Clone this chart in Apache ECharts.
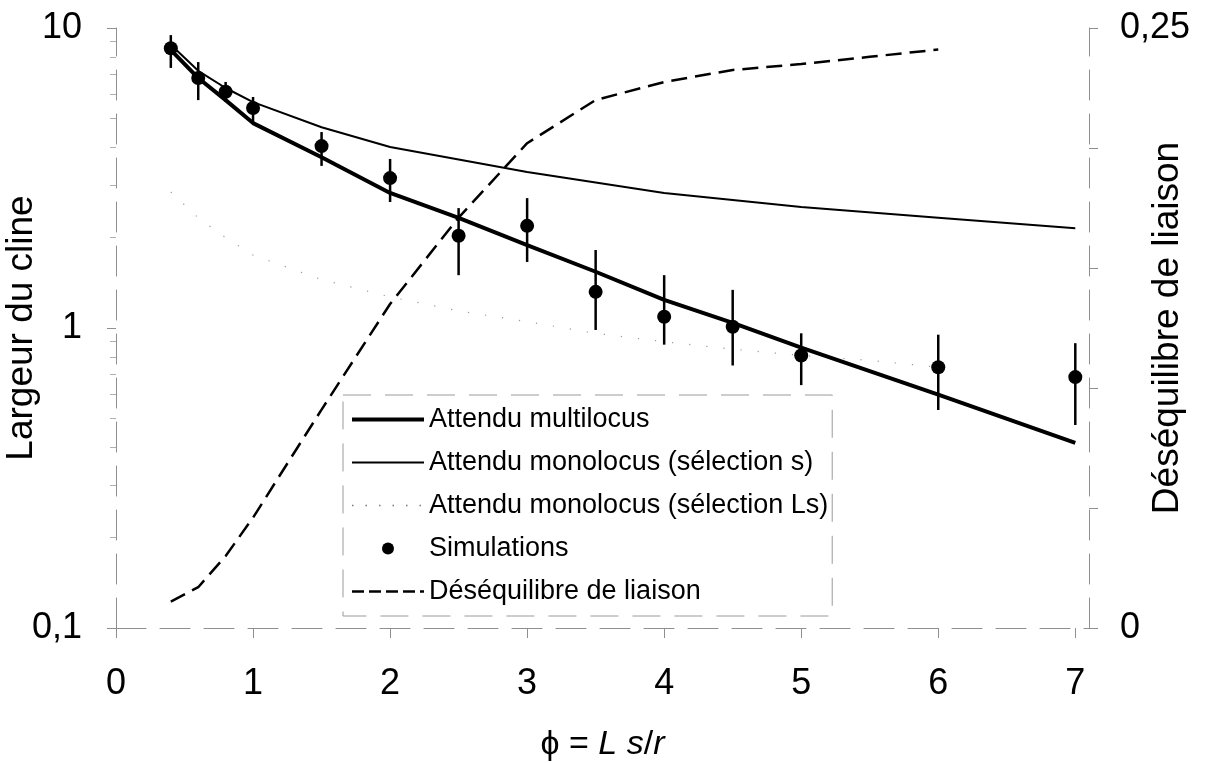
<!DOCTYPE html>
<html>
<head>
<meta charset="utf-8">
<script src="https://cdn.jsdelivr.net/npm/echarts@6/dist/echarts.min.js"></script>
<style>html,body{margin:0;padding:0;background:#fff}#c{width:1209px;height:763px}</style>
</head>
<body>
<div id="c"></div>
<script>
// ---- data ----
const multiX = [0.4, 0.6, 0.8, 1, 1.5, 2, 2.5, 3, 3.5, 4, 4.5, 5, 6, 7];
const multiY = [8.45, 6.81, 5.75, 4.82, 3.71, 2.82, 2.33, 1.89, 1.54, 1.24, 1.04, 0.86, 0.60, 0.414];
const monoSX = [0.4, 0.6, 0.8, 1, 1.5, 2, 3, 4, 5, 6, 7];
const monoSY = [8.8, 7.2, 6.31, 5.66, 4.67, 4.01, 3.31, 2.82, 2.53, 2.33, 2.15];
const monoLsX = [0.4, 0.6, 0.8, 1, 1.5, 2, 2.5, 3, 3.5, 4, 4.5, 5, 5.5, 6];
const monoLsY = [2.84, 2.33, 2.0, 1.75, 1.45, 1.27, 1.14, 1.05, 0.96, 0.90, 0.85, 0.81, 0.78, 0.74];
const simX = [0.4, 0.6, 0.8, 1, 1.5, 2, 2.5, 3, 3.5, 4, 4.5, 5, 6, 7];
const simY = [8.56, 6.81, 6.13, 5.41, 4.04, 3.16, 2.03, 2.19, 1.32, 1.09, 1.01, 0.81, 0.74, 0.686];
const simLow = [7.36, 5.75, 5.67, 4.86, 3.47, 2.63, 1.50, 1.66, 0.985, 0.88, 0.75, 0.645, 0.533, 0.475];
const simHigh = [9.47, 7.70, 6.61, 5.89, 4.50, 3.66, 2.51, 2.71, 1.82, 1.50, 1.34, 0.96, 0.95, 0.89];
const ldX = [0.4, 0.6, 0.8, 1, 1.5, 2, 2.5, 3, 3.5, 4, 4.5, 5, 5.5, 6];
const ldY = [0.011, 0.017, 0.030, 0.046, 0.091, 0.135, 0.171, 0.202, 0.220, 0.2275, 0.2325, 0.235, 0.238, 0.241];
const xTicks = [0, 1, 2, 3, 4, 5, 6, 7];
const rightLabels = [0, 0.25];
const names = ['Attendu multilocus', 'Attendu monolocus (sélection s)', 'Attendu monolocus (sélection Ls)', 'Simulations', 'Déséquilibre de liaison'];

const pairs = (xs, ys) => xs.map((x, i) => [x, ys[i]]);
const comma = v => String(v).replace('.', ',');
const FONT = 'Liberation Sans';
const axisGrey = '#8f8f8f';
const axisDash = [30, 14];
const noSym = { opacity: 0 };

const chart = echarts.init(document.getElementById('c'));
chart.setOption({
  animation: false,
  backgroundColor: '#fff',
  grid: { left: 116, right: 120, top: 28, bottom: 135, containLabel: false, outerBoundsMode: 'none' },
  legend: {
    orient: 'vertical', left: 343, top: 395,
    padding: [11, 4, 11, 7],
    itemWidth: 72, itemHeight: 12, itemGap: 16, itemTextGap: 8,
    borderColor: '#9a9a9a', borderWidth: 1, borderType: [28, 14],
    textStyle: { fontFamily: FONT, fontSize: 27, color: '#000', lineHeight: 24 },
    data: [
      { name: names[0], itemStyle: noSym, lineStyle: { width: 4, color: '#000', type: 'solid' } },
      { name: names[1], itemStyle: noSym, lineStyle: { width: 2, color: '#000', type: 'solid' } },
      { name: names[2], itemStyle: noSym, lineStyle: { type: [1.5, 12], color: '#777', width: 1.5 } },
      { name: names[3], icon: 'circle' },
      { name: names[4], itemStyle: noSym, lineStyle: { type: [12, 5], width: 2.5, color: '#000' } }
    ]
  },
  xAxis: {
    type: 'value', min: 0, max: 7.1, interval: 1,
    name: '{n|ϕ = }{i|L}{n| }{i|s}{n|/}{i|r}',
    nameLocation: 'middle', nameGap: 100, nameMoveOverlap: false,
    nameTextStyle: {
      rich: {
        n: { fontFamily: FONT, fontSize: 34, color: '#000' },
        i: { fontFamily: FONT, fontSize: 34, color: '#000', fontStyle: 'italic' }
      }
    },
    axisLine: { show: true, lineStyle: { color: axisGrey, width: 1, type: axisDash } },
    axisTick: { show: true, length: 10, inside: false, customValues: xTicks, lineStyle: { color: axisGrey } },
    axisLabel: { customValues: xTicks, margin: 38, fontFamily: FONT, fontSize: 36, color: '#000' },
    splitLine: { show: false }
  },
  yAxis: [
    {
      type: 'log', logBase: 10, min: 0.1, max: 10,
      name: 'Largeur du cline', nameLocation: 'middle', nameGap: 76, nameMoveOverlap: false,
      nameTextStyle: { fontFamily: FONT, fontSize: 37, color: '#000' },
      axisLine: { show: true, lineStyle: { color: axisGrey, width: 1, type: axisDash } },
      axisTick: { show: true, length: 9, lineStyle: { color: axisGrey } },
      minorTick: { show: true, splitNumber: 9, length: 6, lineStyle: { color: '#b0b0b0' } },
      axisLabel: { margin: 34, fontFamily: FONT, fontSize: 36, color: '#000', formatter: comma },
      splitLine: { show: false }
    },
    {
      type: 'value', min: 0, max: 0.25, interval: 0.05, position: 'right',
      name: 'Déséquilibre de liaison', nameLocation: 'middle', nameGap: 60, nameMoveOverlap: false,
      nameTextStyle: { fontFamily: FONT, fontSize: 37, color: '#000' },
      axisLine: { show: true, lineStyle: { color: axisGrey, width: 1, type: axisDash } },
      axisTick: { show: true, length: 9, lineStyle: { color: axisGrey } },
      axisLabel: { customValues: rightLabels, margin: 31, fontFamily: FONT, fontSize: 36, color: '#000', formatter: comma },
      splitLine: { show: false }
    }
  ],
  series: [
    {
      name: names[2], type: 'line', yAxisIndex: 0, data: pairs(monoLsX, monoLsY),
      symbol: 'none', lineStyle: { color: '#999', width: 1.2, type: [1.2, 16] }, itemStyle: { color: '#999' }, z: 2
    },
    {
      name: names[4], type: 'line', yAxisIndex: 1, data: pairs(ldX, ldY),
      symbol: 'none', lineStyle: { color: '#000', width: 2.5, type: [16, 8] }, itemStyle: { color: '#000' }, z: 3
    },
    {
      name: names[1], type: 'line', yAxisIndex: 0, data: pairs(monoSX, monoSY),
      symbol: 'none', lineStyle: { color: '#000', width: 2 }, itemStyle: { color: '#000' }, z: 3
    },
    {
      name: names[0], type: 'line', yAxisIndex: 0, data: pairs(multiX, multiY),
      symbol: 'none', lineStyle: { color: '#000', width: 4 }, itemStyle: { color: '#000' }, z: 4
    },
    {
      name: 'errbars', type: 'custom', yAxisIndex: 0,
      data: simX.map((x, i) => [x, simLow[i], simHigh[i]]),
      encode: { x: 0, y: [1, 2] },
      renderItem: (params, api) => {
        const a = api.coord([api.value(0), api.value(1)]);
        const b = api.coord([api.value(0), api.value(2)]);
        return { type: 'line', shape: { x1: a[0], y1: a[1], x2: b[0], y2: b[1] }, style: { stroke: '#000', lineWidth: 2.5 } };
      },
      z: 5
    },
    {
      name: names[3], type: 'scatter', yAxisIndex: 0, data: pairs(simX, simY),
      symbol: 'circle', symbolSize: 14, itemStyle: { color: '#000', opacity: 1 }, z: 6
    }
  ]
});
</script>
</body>
</html>
